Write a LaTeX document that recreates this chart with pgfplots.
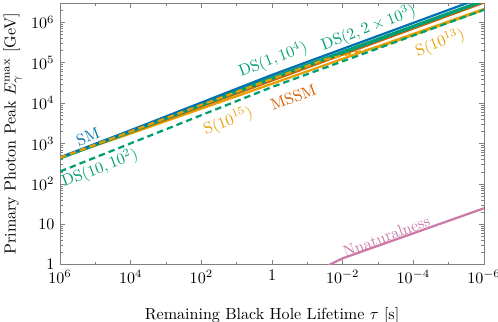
\documentclass[border=0pt]{standalone}
\usepackage{pgfplots}
\pgfplotsset{compat=1.18}
\definecolor{cSM}{HTML}{0072B2}
\definecolor{cDS}{HTML}{009E73}
\definecolor{cS}{HTML}{E69F00}
\definecolor{cMS}{HTML}{D55E00}
\definecolor{cNN}{HTML}{CC79A7}
\begin{document}
\begin{tikzpicture}
\begin{axis}[
  name=main,
  scale only axis, width=264pt, height=163pt,
  xmode=log, ymode=log, x dir=reverse,
  xmin=1e-6, xmax=1e6, ymin=1, ymax=3e6,
  axis line style={gray}, every tick/.style={gray},
  tick align=inside, major tick length=3pt, minor tick length=1.8pt,
  xtick={1e-6,1e-4,1e-2,1,1e2,1e4,1e6},
  xticklabels={$10^{-6}$,$10^{-4}$,$10^{-2}$,$1$,$10^2$,$10^4$,$10^6$},
  minor xtick={1e-5,1e-3,1e-1,10,1e3,1e5},
  ytick={1,10,100,1000,1e4,1e5,1e6},
  yticklabels={$1$,$10$,$10^2$,$10^3$,$10^4$,$10^5$,$10^6$},
  minor ytick={2,3,4,5,6,7,8,9,20,30,40,50,60,70,80,90,200,300,400,500,600,700,800,900,2000,3000,4000,5000,6000,7000,8000,9000,2e4,3e4,4e4,5e4,6e4,7e4,8e4,9e4,2e5,3e5,4e5,5e5,6e5,7e5,8e5,9e5,2e6,3e6},
  xlabel={Remaining Black Hole Lifetime $\tau$ [s]},
  ylabel={Primary Photon Peak $E_\gamma^{\max}$ [GeV]},
  xlabel style={yshift=-8pt},
  ylabel style={yshift=-1pt},
  clip=true,
]
\addplot[cNN, line width=1.4pt] coordinates {(2.82e-2,0.93) (1e-2,1.45) (1e-4,6.03) (1e-6,25.1)};
\addplot[cS, line width=1.4pt] coordinates {(1e6,447) (1e4,1778) (1,3.02e4) (1e-6,2.14e6)};
\addplot[cMS, line width=1.4pt] coordinates {(1e6,447) (1e4,1905) (1,3.63e4) (1e-6,3.09e6)};
\addplot[cDS, line width=1.4pt] coordinates {(1e6,427) (1,3.98e4) (1e-6,3.31e6)};
\addplot[cDS, line width=1.4pt] coordinates {(1e6,437) (1,4.37e4) (1e-6,3.55e6)};
\addplot[cSM, line width=1.4pt] coordinates {(1e6,457) (1e4,2138) (1,5.0e4) (1e-6,4.27e6)};
\addplot[cS, line width=1.4pt, dash pattern=on 4pt off 2.5pt] coordinates {(1e6,447) (1e4,1995) (100,9120) (1,3.98e4) (3.16e-2,1.2e5) (1e-3,2.4e5) (1e-6,2.04e6)};
\addplot[cDS, line width=1.4pt, dash pattern=on 4pt off 2.5pt] coordinates {(1e6,204) (1,2.51e4) (1e-6,2.04e6)};
\node[rotate=21, text=cSM] at (axis cs:1.62e5,1480) {SM};
\node[rotate=21, text=cDS] at (axis cs:7.4e4,245) {$\mathrm{DS}(10,10^2)$};
\node[rotate=21, text=cDS] at (axis cs:0.93,1.2e5) {$\mathrm{DS}(1,10^4)$};
\node[rotate=21, text=cDS] at (axis cs:1.86e-3,7.2e5) {$\mathrm{DS}(2,2\times10^3)$};
\node[rotate=21, text=cS] at (axis cs:1.74e-5,3.1e5) {$\mathrm{S}(10^{13})$};
\node[rotate=21, text=cS] at (axis cs:17.4,3600) {$\mathrm{S}(10^{15})$};
\node[rotate=21, text=cMS] at (axis cs:0.25,1.4e4) {MSSM};
\node[rotate=21, text=cNN] at (axis cs:5.75e-4,5.1) {Nnaturalness};
\end{axis}
\pgfresetboundingbox
\path[use as bounding box] ([xshift=-37.4pt,yshift=-35.5pt]main.south west) rectangle ([xshift=8.7pt,yshift=1.9pt]main.north east);
\end{tikzpicture}
\end{document}
